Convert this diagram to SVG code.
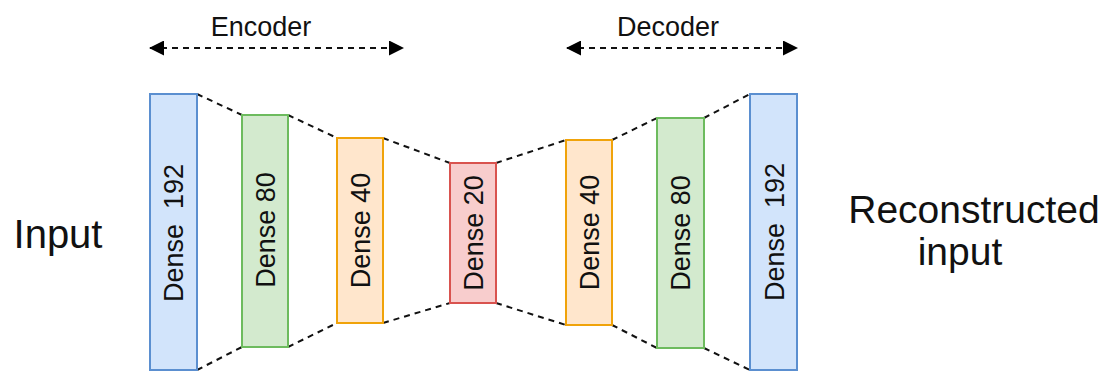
<svg xmlns="http://www.w3.org/2000/svg" width="1107" height="372" viewBox="0 0 1107 372">
  <style>
    text { font-family: "Liberation Sans", Arial, sans-serif; fill: #111; }
    .lbl { font-size: 27px; text-anchor: middle; white-space: pre; }
    .big { font-size: 39px; text-anchor: middle; }
    .span { font-size: 27px; text-anchor: middle; }
    .layer { stroke-width: 2; }
    .blue { fill: #d2e4fb; stroke: #5b8fd0; }
    .green { fill: #d3eace; stroke: #6dbb5e; }
    .orange { fill: #ffe6cc; stroke: #f0a30a; }
    .red { fill: #f8cdcd; stroke: #d9534f; }
    .link { stroke: #111; stroke-width: 2; stroke-dasharray: 6 5; fill: none; }
  </style>
  <defs>
    <marker id="tri" viewBox="0 0 15 15" markerWidth="15" markerHeight="15" refX="14" refY="7.5" orient="auto-start-reverse" markerUnits="userSpaceOnUse">
      <path d="M0,0 L15,7.5 L0,15 Z" fill="#000"/>
    </marker>
  </defs>
  <rect width="1107" height="372" fill="#fff"/>

  <!-- connectors between layers and span arrows -->
  <g id="connectors">
    <line class="link" x1="150" y1="48" x2="403" y2="48" marker-start="url(#tri)" marker-end="url(#tri)"/>
    <line class="link" x1="567" y1="48" x2="797" y2="48" marker-start="url(#tri)" marker-end="url(#tri)"/>
    <path class="link" d="M197,94 L242,115 M288,115 L337,138 M383,138 L450,163"/>
    <path class="link" d="M197,370 L242,347 M288,347 L337,323 M383,323 L450,303"/>
    <path class="link" d="M496,163 L566,140 M612,140 L657,118 M704,118 L750,94"/>
    <path class="link" d="M496,303 L566,325 M612,325 L657,348 M704,348 L750,370"/>
  </g>

  <g id="encoder-label"><text class="span" x="261" y="36">Encoder</text></g>
  <g id="decoder-label"><text class="span" x="668" y="36">Decoder</text></g>

  <g id="input"><text class="big" x="58" y="248" style="font-size:40px">Input</text></g>
  <g id="output">
    <text class="big" x="974" y="223">Reconstructed</text>
    <text class="big" x="960" y="265">input</text>
  </g>

  <g id="enc-dense192">
    <rect class="layer blue" x="150" y="94" width="47" height="276"/>
    <text class="lbl" transform="translate(183,233) rotate(-90)">Dense  192</text>
  </g>
  <g id="enc-dense80">
    <rect class="layer green" x="242" y="115" width="46" height="232"/>
    <text class="lbl" transform="translate(275,230) rotate(-90)">Dense 80</text>
  </g>
  <g id="enc-dense40">
    <rect class="layer orange" x="337" y="138" width="46" height="185"/>
    <text class="lbl" transform="translate(370,230.5) rotate(-90)">Dense 40</text>
  </g>
  <g id="bottleneck-dense20">
    <rect class="layer red" x="450" y="163" width="46" height="140"/>
    <text class="lbl" transform="translate(483,233) rotate(-90)">Dense 20</text>
  </g>
  <g id="dec-dense40">
    <rect class="layer orange" x="566" y="140" width="46" height="185"/>
    <text class="lbl" transform="translate(599,232.5) rotate(-90)">Dense 40</text>
  </g>
  <g id="dec-dense80">
    <rect class="layer green" x="657" y="118" width="47" height="230"/>
    <text class="lbl" transform="translate(690,233) rotate(-90)">Dense 80</text>
  </g>
  <g id="dec-dense192">
    <rect class="layer blue" x="750" y="94" width="47" height="276"/>
    <text class="lbl" transform="translate(784,232) rotate(-90)">Dense  192</text>
  </g>
</svg>
